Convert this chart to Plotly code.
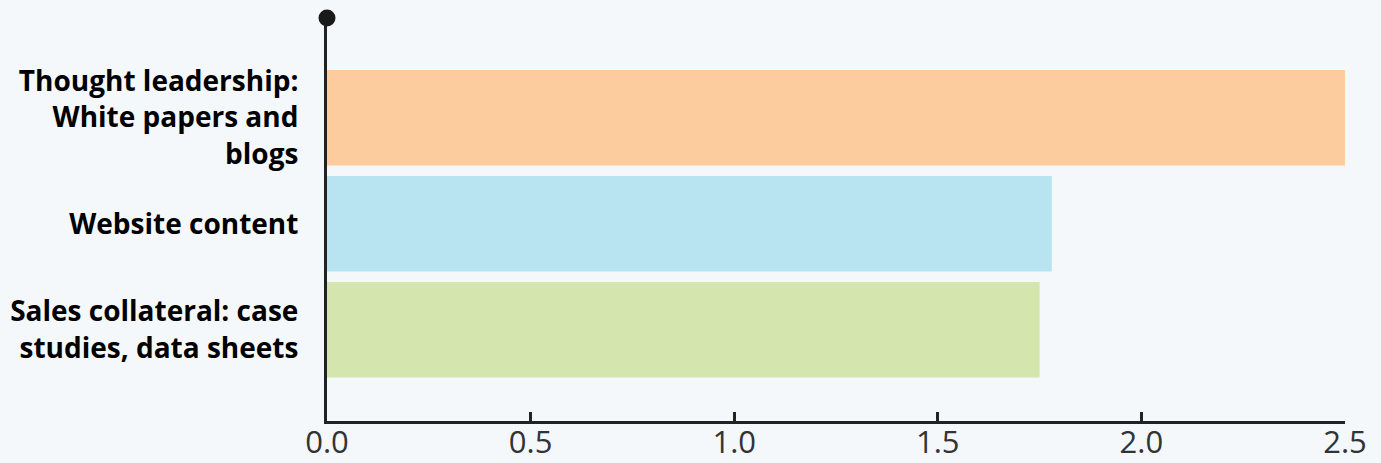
import plotly.graph_objects as go

# Content types and their scores
categories = [
    "Sales collateral: case<br>studies, data sheets",
    "Website content",
    "Thought leadership:<br>White papers and<br>blogs",
]
values = [1.75, 1.78, 2.5]
bar_colors = ["#D4E5AE", "#B8E3F0", "#FDCC9E"]
tick_values = [0.0, 0.5, 1.0, 1.5, 2.0, 2.5]
tick_labels = ["0.0", "0.5", "1.0", "1.5", "2.0", "2.5"]

AXIS_COLOR = "#222222"
BG = "#F4F8FB"

fig = go.Figure(
    go.Bar(
        x=values,
        y=categories,
        orientation="h",
        marker=dict(color=bar_colors, line=dict(width=0)),
        hoverinfo="x+y",
    )
)

fig.update_layout(
    width=1381,
    height=463,
    margin=dict(l=327, r=36, t=18, b=42),
    paper_bgcolor=BG,
    plot_bgcolor=BG,
    bargap=0.1,
    showlegend=False,
    xaxis=dict(
        range=[0, 2.5],
        tickvals=tick_values,
        ticktext=tick_labels,
        automargin=False,
        showgrid=False,
        zeroline=False,
        showline=True,
        linecolor=AXIS_COLOR,
        linewidth=3,
        ticks="inside",
        ticklen=9,
        tickwidth=3,
        tickcolor=AXIS_COLOR,
        ticklabelstandoff=-8,
        tickfont=dict(family="Open Sans", size=31, color="#333333"),
    ),
    yaxis=dict(
        range=[-0.86, 2.94],
        automargin=False,
        showgrid=False,
        zeroline=False,
        showline=True,
        linecolor=AXIS_COLOR,
        linewidth=3,
        ticks="",
        ticklabelstandoff=20,
        tickfont=dict(family="Open Sans", size=28, color="#000000", weight="bold"),
    ),
    shapes=[
        # round cap at the top of the value axis
        dict(
            type="circle",
            xref="x domain",
            yref="y domain",
            xsizemode="pixel",
            ysizemode="pixel",
            xanchor=0,
            yanchor=1,
            x0=-8.5,
            x1=8.5,
            y0=-8.5,
            y1=8.5,
            fillcolor="#1A1A1A",
            line=dict(width=0),
        )
    ],
)

fig.write_html("out.html")
